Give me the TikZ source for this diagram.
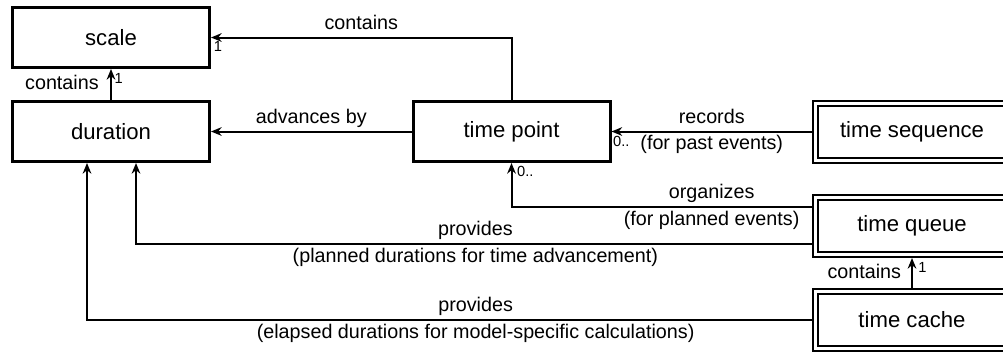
\documentclass[tikz,border=0pt]{standalone}
\usepackage{fontspec}
\setmainfont{Liberation Sans}
\usetikzlibrary{arrows.meta, positioning, calc}

\begin{document}
\begin{tikzpicture}[
    x=0.75pt, y=-0.75pt,
    classbox/.style={draw, line width=2.25pt, minimum width=147.75pt, minimum height=45pt, inner sep=0pt, font=\fontsize{16.6}{20}\selectfont},
    collbox/.style={draw, line width=1.5pt, double, double distance=2.25pt, outer sep=2.625pt, minimum width=144.75pt, minimum height=42.75pt, inner sep=0pt, font=\fontsize{16.6}{20}\selectfont},
    link/.style={line width=1.5pt, -{Stealth[length=8pt, width=6.5pt]}},
    lbl/.style={font=\fontsize{14.8}{17}\selectfont, inner sep=2.5pt, text height=10.5pt, text depth=3pt},
    mult/.style={font=\fontsize{11}{13}\selectfont, inner sep=1pt, yshift=-2pt}
]

% Frame of the picture
\useasboundingbox (0,0) rectangle (1003,354);
\clip (0,0) rectangle (1003,354);

% Classes
\node[classbox] (scale) at (111,37.5) {scale};
\node[classbox] (duration) at (111,131.5) {duration};
\node[classbox] (tpoint) at (511.5,131.5) {time point};

% Collections (double frame)
\node[collbox] (tseq) at (912,131.5) {time sequence};
\node[collbox] (tqueue) at (912,226) {time queue};
\node[collbox] (tcache) at (912,320) {time cache};

% time point contains scale
\draw[link] (tpoint.north) |- (scale.east) node[lbl, pos=0.75, above] {contains};
\node[mult, anchor=north west, xshift=1pt] at (scale.east) {1};

% duration contains scale
\draw[link] (duration.north) -- (scale.south) node[lbl, midway, left=6pt] {contains};
\node[mult, anchor=north west, xshift=1.5pt] at (scale.south) {1};

% time point advances by duration
\draw[link] (tpoint.west) -- (duration.east) node[lbl, midway, above] {advances by};

% time sequence records time points
\draw[link] (tseq.west) -- (tpoint.east) node[lbl, midway, above] {records} node[lbl, midway, below] {(for past events)};
\node[mult, anchor=north west] at (tpoint.east) {0..};

% time queue organizes time points
\draw[link] ($(tqueue.west)+(0,-19)$) -| (tpoint.south) node[lbl, pos=0.167, above] {organizes} node[lbl, pos=0.167, below] {(for planned events)};
\node[mult, anchor=north west, xshift=3pt, yshift=1pt] at (tpoint.south) {0..};

% time queue provides durations
\draw[link] ($(tqueue.west)+(0,18)$) -| ($(duration.south)+(25,0)$) node[lbl, pos=0.249, above] {provides} node[lbl, pos=0.249, below] {(planned durations for time advancement)};

% time cache provides durations
\draw[link] (tcache.west) -| ($(duration.south)+(-24,0)$) node[lbl, pos=0.232, above] {provides} node[lbl, pos=0.232, below] {(elapsed durations for model-specific calculations)};

% time cache contains time queue
\draw[link] (tcache.north) -- (tqueue.south) node[lbl, midway, left=5pt] {contains};
\node[mult, anchor=north west, xshift=3.5pt] at (tqueue.south) {1};

\end{tikzpicture}
\end{document}
